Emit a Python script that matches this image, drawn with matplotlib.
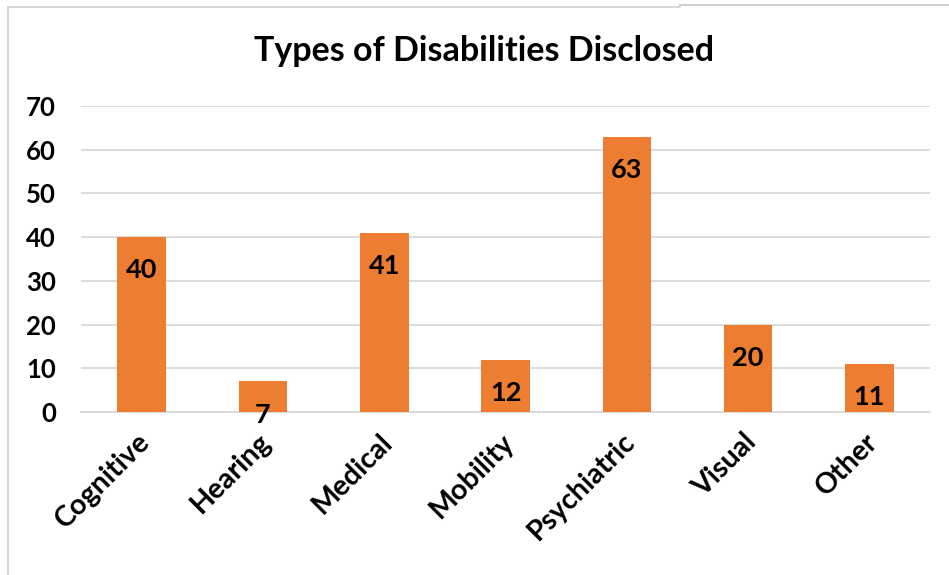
import matplotlib
matplotlib.use("Agg")
import matplotlib.pyplot as plt
from matplotlib.lines import Line2D
import matplotlib.transforms as mtransforms

categories = ["Cognitive", "Hearing", "Medical", "Mobility", "Psychiatric", "Visual", "Other"]
values = [40, 7, 41, 12, 63, 20, 11]
yticks = [0, 10, 20, 30, 40, 50, 60, 70]
title = "Types of Disabilities Disclosed"

plt.rcParams['font.family'] = ['Lato', 'DejaVu Sans']

fig = plt.figure(figsize=(9.49, 5.75), dpi=100)
ax = fig.add_axes([0.0854, 0.2835, 0.8946, 0.5322])

x = list(range(len(categories)))
ax.bar(x, values, width=0.4, color="#ED7D31", zorder=3)
ax.set_xlim(-0.5, len(categories) - 0.5)
ax.set_ylim(0, 70)
ax.set_yticks(yticks)
ax.set_yticklabels([str(t) for t in yticks], fontsize=18.5, fontweight='bold')
ax.yaxis.grid(True, color="#D9D9D9", linewidth=1.3, zorder=0)
ax.set_axisbelow(True)
ax.tick_params(axis='y', length=0, pad=18)
ax.tick_params(axis='x', length=0, pad=12)
for s in ["top", "right", "left"]:
    ax.spines[s].set_visible(False)
ax.spines["bottom"].set_color("#D9D9D9")
ax.spines["bottom"].set_linewidth(1.3)

ax.set_xticks(x)
ax.set_xticklabels(categories, rotation=45, ha='right', rotation_mode='anchor',
                   fontsize=20.5, fontweight='bold')
shift = mtransforms.ScaledTranslation(-5 / 100, 0, fig.dpi_scale_trans)
for lbl in ax.get_xticklabels():
    lbl.set_transform(lbl.get_transform() + shift)

for xi, v in zip(x, values):
    ax.annotate(str(v), (xi, v), xytext=(0, -24), textcoords='offset points',
                ha='center', va='center', fontsize=19.5, fontweight='bold', color='black',
                zorder=4)

fig.text(0.51, 0.912, title, ha='center', va='center', fontsize=24.5, fontweight='bold')

# chart border
fig.add_artist(Line2D([0.0085, 0.0085], [0.0, 0.988], transform=fig.transFigure,
                      color="#D0D0D0", linewidth=1.2))
fig.add_artist(Line2D([0.0085, 0.717], [0.988, 0.988], transform=fig.transFigure,
                      color="#D0D0D0", linewidth=1.2))
fig.add_artist(Line2D([0.717, 1.0], [0.992, 0.992], transform=fig.transFigure,
                      color="#D0D0D0", linewidth=1.5))

fig.savefig("out.png", dpi=100)
